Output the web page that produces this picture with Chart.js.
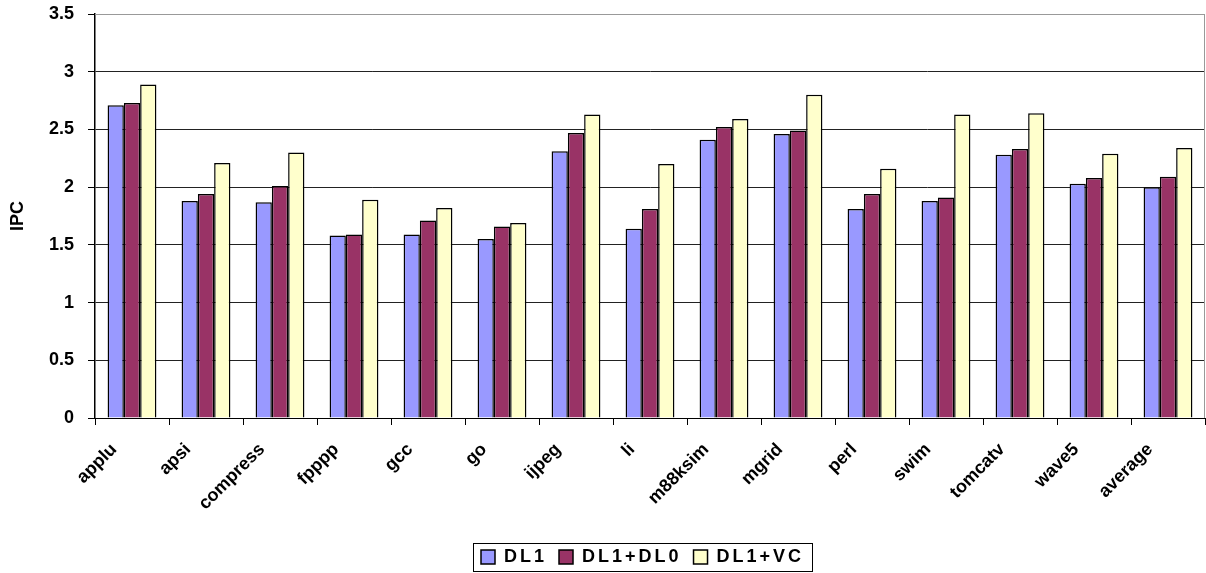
<!DOCTYPE html>
<html>
<head>
<meta charset="utf-8">
<script src="https://cdn.jsdelivr.net/npm/chart.js@4/dist/chart.umd.min.js"></script>
<style>
  html, body { margin: 0; padding: 0; background: #fff; }
  #wrap { width: 1206px; height: 573px; }
</style>
</head>
<body>
<div id="wrap"><canvas id="ipc" width="1206" height="573"></canvas></div>
<script>
// --- data ---
const categories = ['applu','apsi','compress','fpppp','gcc','go','ijpeg','li','m88ksim','mgrid','perl','swim','tomcatv','wave5','average'];
const dl1   = [2.71, 1.88, 1.87, 1.58, 1.59, 1.55, 2.31, 1.64, 2.41, 2.46, 1.81, 1.88, 2.28, 2.03, 2.00];
const dl1dl0 = [2.73, 1.94, 2.01, 1.59, 1.71, 1.66, 2.47, 1.81, 2.52, 2.49, 1.94, 1.91, 2.33, 2.08, 2.09];
const dl1vc = [2.89, 2.21, 2.30, 1.89, 1.82, 1.69, 2.63, 2.20, 2.59, 2.80, 2.16, 2.63, 2.64, 2.29, 2.34];
const seriesNames = ['DL1', 'DL1+DL0', 'DL1+VC'];
const seriesColors = ['#9999ff', '#993366', '#ffffcc'];
const yMin = 0, yMax = 3.5, yStep = 0.5;

const FONT = 'Arial, "Liberation Sans", sans-serif';
const PLOT_BOTTOM = 418;          // where the zero line sits
const LEGEND_AT = { x: 481, y: 548 }; // first legend swatch (left, item top)

// legend text in the original is letter-spaced and the box sits a bit right of centre
const spacedLegend = {
  id: 'spacedLegend',
  beforeUpdate(chart) {
    const L = chart.legend;
    if (!L || L._spaced) return;
    L._spaced = true;
    const ctx = chart.ctx;
    const fit = L.fit.bind(L), draw = L.draw.bind(L);
    L.fit = function () { ctx.save(); ctx.letterSpacing = '3px'; fit(); ctx.restore(); };
    L.draw = function () {
      const hb = L.legendHitBoxes[0];
      const dx = hb ? LEGEND_AT.x - hb.left : 0, dy = hb ? LEGEND_AT.y - hb.top : 0;
      chart._legendShift = { dx, dy };
      ctx.save();
      ctx.translate(dx, dy);
      ctx.letterSpacing = '3px';
      draw();
      ctx.restore();
    };
  }
};

// gray frame on top and right of the plot, black box round the legend items
const framePlugin = {
  id: 'frame',
  afterDraw(chart) {
    const { ctx, chartArea: a, legend } = chart;
    ctx.save();
    ctx.strokeStyle = '#999';
    ctx.lineWidth = 1;
    ctx.beginPath();
    ctx.moveTo(a.left, a.top + 0.5);
    ctx.lineTo(a.right - 0.5, a.top + 0.5);
    ctx.lineTo(a.right - 0.5, a.bottom);
    ctx.stroke();
    if (legend && legend.legendHitBoxes.length) {
      const sh = chart._legendShift || { dx: 0, dy: 0 };
      const hb = legend.legendHitBoxes;
      const l = Math.min(...hb.map(b => b.left)) + sh.dx - 8;
      const r = Math.max(...hb.map(b => b.left + b.width)) + sh.dx + 8;
      const t = Math.min(...hb.map(b => b.top)) + sh.dy - 5;
      ctx.strokeStyle = '#000';
      ctx.strokeRect(Math.round(l) + 0.5, Math.round(t) + 0.5, Math.round(r - l), 28);
    }
    ctx.restore();
  }
};

new Chart(document.getElementById('ipc'), {
  type: 'bar',
  data: {
    labels: categories,
    datasets: [dl1, dl1dl0, dl1vc].map((d, i) => ({
      label: seriesNames[i],
      data: d,
      backgroundColor: seriesColors[i],
      borderColor: '#000',
      borderWidth: 1.5,
      categoryPercentage: 0.66,
      barPercentage: 1.0
    }))
  },
  options: {
    responsive: false,
    animation: false,
    devicePixelRatio: 1,
    layout: { padding: { top: 14, right: 1, left: 0, bottom: 0 } },
    plugins: {
      tooltip: { enabled: false },
      legend: {
        position: 'bottom',
        labels: {
          color: '#000',
          font: { family: FONT, size: 18, weight: 'bold' },
          boxWidth: 14,
          boxHeight: 14,
          padding: 12
        }
      }
    },
    scales: {
      x: {
        grid: {
          offset: true,
          drawOnChartArea: false,
          drawTicks: true,
          tickLength: 7,
          color: '#000'
        },
        border: { color: '#000', width: 1 },
        ticks: {
          color: '#000',
          font: { family: FONT, size: 18, weight: 'bold' },
          minRotation: 45,
          maxRotation: 45,
          labelOffset: -18,
          padding: 14
        },
        afterFit(s) {
          const lh = s.chart.legend ? s.chart.legend.height : 40;
          s.height = 573 - PLOT_BOTTOM - lh;
        }
      },
      y: {
        min: yMin,
        max: yMax,
        ticks: {
          stepSize: yStep,
          color: '#000',
          font: { family: FONT, size: 18, weight: 'bold' },
          padding: 14,
          callback: v => String(v)
        },
        grid: {
          color: ctx => (ctx.tick && ctx.tick.value === yMax ? '#999' : '#222'),
          lineWidth: 1,
          drawTicks: true,
          tickLength: 7,
          tickColor: '#000'
        },
        border: { color: '#000', width: 1.5 },
        title: {
          display: true,
          text: 'IPC',
          color: '#000',
          font: { family: FONT, size: 18, weight: 'bold' },
          padding: { top: 7, bottom: 0 }
        },
        afterFit(s) { s.width = 95; s.paddingTop = 0; s.paddingBottom = 0; }
      }
    }
  },
  plugins: [spacedLegend, framePlugin]
});
</script>
</body>
</html>
